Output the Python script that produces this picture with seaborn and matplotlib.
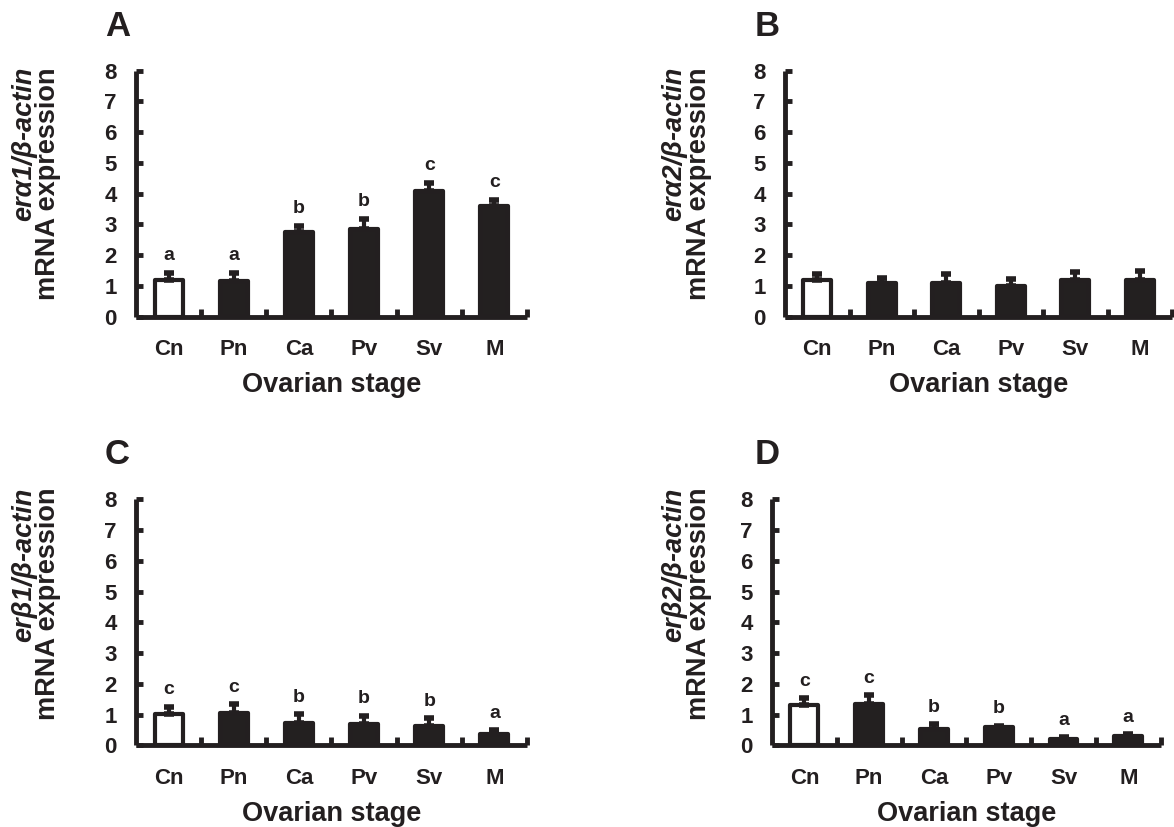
import matplotlib
matplotlib.use("Agg")
import matplotlib.pyplot as plt
import pandas as pd
import seaborn as sns
from matplotlib.ticker import FixedLocator

stages = ["Cn", "Pn", "Ca", "Pv", "Sv", "M"]

era1_mean = [1.19, 1.16, 2.76, 2.85, 4.09, 3.61]
era1_err = [0.24, 0.27, 0.20, 0.34, 0.27, 0.19]
era1_letters = ["a", "a", "b", "b", "c", "c"]

era2_mean = [1.19, 1.10, 1.10, 1.00, 1.19, 1.19]
era2_err = [0.20, 0.15, 0.28, 0.24, 0.25, 0.30]
era2_letters = ["", "", "", "", "", ""]

erb1_mean = [1.01, 1.06, 0.74, 0.69, 0.63, 0.36]
erb1_err = [0.25, 0.28, 0.28, 0.27, 0.25, 0.14]
erb1_letters = ["c", "c", "b", "b", "b", "a"]

erb2_mean = [1.30, 1.34, 0.54, 0.60, 0.22, 0.30]
erb2_err = [0.23, 0.29, 0.15, 0.04, 0.05, 0.07]
erb2_letters = ["c", "c", "b", "b", "a", "a"]

gene_labels = ["erα1/β-actin", "erα2/β-actin", "erβ1/β-actin", "erβ2/β-actin"]
panel_letters = ["A", "B", "C", "D"]

INK = "#231f20"
W, H = 1174, 827

sns.set_style("ticks")
plt.rcParams["font.family"] = ["Liberation Sans", "DejaVu Sans"]
plt.rcParams["font.weight"] = "bold"

fig = plt.figure(figsize=(W / 100, H / 100), dpi=100)


def px_rect(left, top, right, bottom):
    return [left / W, 1 - bottom / H, (right - left) / W, (bottom - top) / H]


panels = [
    # axes box in pixels, y-label column x centres, label top y, panel letter x,y
    dict(box=(136, 70.7, 527, 316.7), lab_x=(24, 48), lab_top=67, let=(105, 27)),
    dict(box=(785, 70.7, 1172, 316.7), lab_x=(674, 699), lab_top=67, let=(755, 27)),
    dict(box=(136, 499.3, 527, 745.3), lab_x=(24, 48), lab_top=488, let=(105, 454)),
    dict(box=(772, 499.3, 1160.7, 745.3), lab_x=(674, 699), lab_top=488, let=(755, 454)),
]
series = [
    (era1_mean, era1_err, era1_letters),
    (era2_mean, era2_err, era2_letters),
    (erb1_mean, erb1_err, erb1_letters),
    (erb2_mean, erb2_err, erb2_letters),
]

for k, (p, (mean, err, letters)) in enumerate(zip(panels, series)):
    ax = fig.add_axes(px_rect(*p["box"]))
    df = pd.DataFrame({"stage": stages, "value": mean})
    sns.barplot(
        data=df, x="stage", y="value", hue="stage",
        palette=["white"] + [INK] * 5, legend=False,
        width=0.43, edgecolor=INK, linewidth=3, ax=ax, zorder=2,
    )
    for bar in ax.patches:
        bar.set_joinstyle("round")
    ax.errorbar(
        range(len(stages)), mean, yerr=[[0] * len(err), err],
        fmt="none", ecolor=INK, elinewidth=3, capsize=3.5, capthick=4, zorder=3,
    )
    for i, (m, e, t) in enumerate(zip(mean, err, letters)):
        if t:
            ax.text(i, m + e + 0.55, t, ha="center", va="center",
                    fontsize=14, fontweight="bold", color=INK)

    ax.set_xlim(-0.5, len(stages) - 0.5)
    ax.set_ylim(0, 8)
    ax.set_yticks(range(0, 9))
    ax.xaxis.set_minor_locator(FixedLocator([i + 0.5 for i in range(len(stages))]))
    ax.tick_params(axis="y", direction="in", length=5, width=3.5, color=INK,
                   labelsize=16, pad=14, labelcolor=INK)
    ax.tick_params(axis="x", which="major", length=0, labelsize=16, pad=16,
                   labelcolor=INK)
    ax.tick_params(axis="x", which="minor", direction="in", length=5.5,
                   width=3.5, color=INK)
    for lab in ax.get_xticklabels() + ax.get_yticklabels():
        lab.set_fontweight("bold")
    sns.despine(ax=ax)
    for side in ("left", "bottom"):
        ax.spines[side].set_linewidth(3.5)
        ax.spines[side].set_color(INK)
        ax.spines[side].set_capstyle("butt")
    ax.set_xlabel("Ovarian stage", fontsize=19.5, fontweight="bold",
                  color=INK, labelpad=9)
    ax.set_ylabel("")

    x1, x2 = p["lab_x"]
    fig.text(x1 / W, 1 - p["lab_top"] / H, gene_labels[k], rotation=90,
             ha="center", va="top", fontsize=19.5, fontstyle="italic",
             fontweight="bold", color=INK)
    fig.text(x2 / W, 1 - p["lab_top"] / H, "mRNA expression", rotation=90,
             ha="center", va="top", fontsize=19.5, fontweight="bold", color=INK)
    fig.text(p["let"][0] / W, 1 - p["let"][1] / H, panel_letters[k],
             ha="left", va="center", fontsize=25, fontweight="bold", color=INK)

fig.savefig("out.png", dpi=100)
